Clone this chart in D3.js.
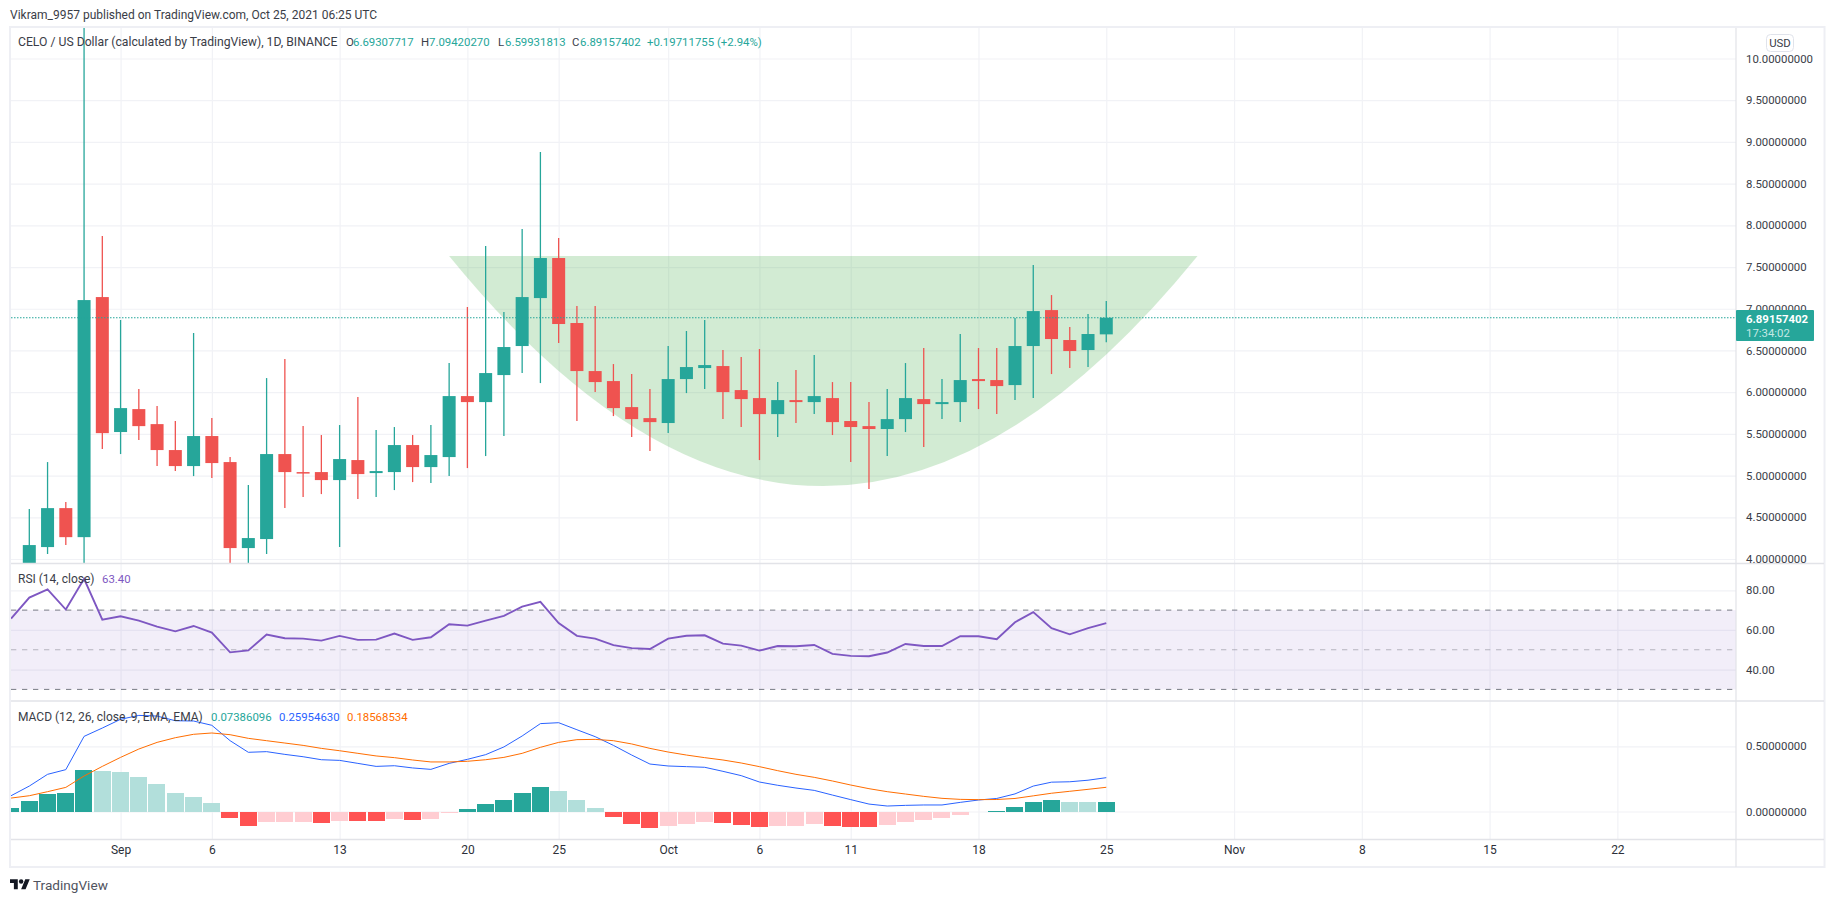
<!DOCTYPE html>
<html>
<head>
<meta charset="utf-8">
<title>CELO / US Dollar</title>
<script src="https://cdn.jsdelivr.net/npm/d3@7"></script>
<style>
  html, body { margin: 0; padding: 0; background: #fff; overflow: hidden; }
  svg { display: block; }
  text { font-family: Roboto, sans-serif; font-size: 11.4px; fill: #3a3d47; }
  .axis path { display: none; }
</style>
</head>
<body>
<svg id="chart" width="1834" height="902"></svg>
<script>
// candles, Aug 27 .. Oct 25
const opens = [3.95,4.143,4.610,4.262,7.140,5.522,5.797,5.617,5.306,5.114,5.474,5.162,4.131,4.239,5.258,5.042,5.042,4.946,5.186,5.030,5.042,5.366,5.102,5.222,5.953,5.881,6.205,6.553,7.128,7.608,6.829,6.253,6.133,5.821,5.689,5.630,6.157,6.289,6.313,6.025,5.929,5.737,5.905,5.881,5.929,5.654,5.593,5.558,5.677,5.917,5.857,5.881,6.157,6.145,6.085,6.553,6.984,6.625,6.505,6.693];
const highs = [4.598,5.162,4.682,10.6,7.872,6.865,6.037,5.833,5.653,6.709,5.690,5.222,4.886,6.169,6.397,5.593,5.486,5.606,5.941,5.546,5.582,5.486,5.606,6.349,7.021,7.752,6.961,7.956,8.879,7.848,7.033,7.033,6.337,6.217,6.037,6.553,6.733,6.865,6.505,6.421,6.517,6.121,6.265,6.445,6.121,6.121,5.881,6.037,6.349,6.529,6.157,6.697,6.529,6.529,6.889,7.524,7.164,6.781,6.937,7.094];
const lows = [3.9,4.059,4.167,3.951,5.318,5.258,5.426,5.114,5.054,4.994,4.970,3.951,3.951,4.059,4.610,4.742,4.778,4.143,4.718,4.742,4.826,4.922,4.910,4.994,5.090,5.234,5.474,6.229,6.109,6.589,5.654,6.001,5.713,5.462,5.294,5.510,5.989,6.037,5.677,5.581,5.186,5.462,5.630,5.737,5.486,5.162,4.838,5.234,5.522,5.342,5.677,5.641,5.797,5.737,5.905,5.929,6.217,6.289,6.301,6.599];
const closes = [4.167,4.610,4.262,7.104,5.509,5.809,5.593,5.306,5.114,5.474,5.150,4.131,4.251,5.258,5.042,5.030,4.946,5.198,5.018,5.054,5.366,5.102,5.246,5.953,5.881,6.229,6.541,7.140,7.608,6.817,6.253,6.121,5.809,5.677,5.641,6.157,6.301,6.325,6.001,5.917,5.737,5.905,5.881,5.953,5.641,5.582,5.558,5.677,5.929,5.857,5.881,6.145,6.133,6.073,6.553,6.972,6.637,6.493,6.697,6.892];

// indicators, Aug 26 .. Oct 25
const rsiValues = [65.7,76.3,80.5,70.3,85.8,65.2,
  66.9,64.7,61.7,59.3,62.0,58.7,48.7,49.7,57.7,55.8,55.6,54.6,57.0,55.0,55.1,58.2,55.0,56.3,62.9,62.2,64.7,67.1,71.8,74.2,63.5,57.0,55.6,52.3,50.8,50.4,
  55.6,57.1,57.3,53.1,52.1,49.6,51.9,51.8,52.4,47.9,46.9,46.7,48.6,52.9,51.9,51.9,56.8,56.8,55.3,63.9,69.0,60.9,57.8,60.9,63.4];
const macdValues = [0.121,0.195,0.285,0.321,0.576,0.640,
  0.707,0.737,0.732,0.696,0.694,0.661,0.543,0.454,0.459,0.438,0.420,0.397,0.392,0.369,0.346,0.351,0.334,0.323,0.369,0.400,0.436,0.495,0.579,0.674,0.681,0.627,0.574,0.507,0.433,0.364,
  0.349,0.344,0.339,0.308,0.275,0.226,0.201,0.180,0.162,0.126,0.091,0.057,0.042,0.047,0.050,0.050,0.070,0.088,0.100,0.135,0.195,0.225,0.228,0.240,0.2595];
const signalValues = [0.103,0.121,0.152,0.185,0.272,0.346,
  0.415,0.479,0.530,0.566,0.592,0.602,0.589,0.561,0.543,0.525,0.507,0.484,0.466,0.446,0.426,0.413,0.395,0.380,0.380,0.385,0.397,0.415,0.446,0.492,0.530,0.551,0.553,0.543,0.518,0.484,
  0.456,0.433,0.413,0.395,0.372,0.344,0.313,0.285,0.262,0.234,0.203,0.175,0.152,0.134,0.116,0.101,0.093,0.091,0.092,0.100,0.120,0.140,0.155,0.170,0.1857];
const histValues = [0.028,0.082,0.135,0.143,0.320,0.312,
  0.304,0.266,0.212,0.143,0.112,0.066,-0.049,-0.110,-0.079,-0.078,-0.077,-0.087,-0.072,-0.073,-0.074,-0.056,-0.064,-0.056,-0.010,0.020,0.059,0.089,0.143,0.189,0.158,0.089,0.028,-0.041,-0.095,-0.125,
  -0.110,-0.095,-0.079,-0.087,-0.102,-0.118,-0.110,-0.109,-0.095,-0.110,-0.118,-0.119,-0.102,-0.079,-0.064,-0.049,-0.026,-0.003,0.006,0.035,0.075,0.085,0.073,0.070,0.0739];

const priceTicks = [10,9.5,9,8.5,8,7.5,7,6.5,6,5.5,5,4.5,4];
const rsiTicks = [80,60,40];
const rsiBands = [70,50,30];
const macdTicks = [0.5,0];
const timeTicks = ['2021-09-01','2021-09-06','2021-09-13','2021-09-20','2021-09-25','2021-10-01','2021-10-06','2021-10-11','2021-10-18','2021-10-25','2021-11-01','2021-11-08','2021-11-15','2021-11-22'];
const timeLabels = ['Sep','6','13','20','25','Oct','6','11','18','25','Nov','8','15','22'];
const lastPrice = 6.89157402;

// the green cup: two rim points and the curve's control point
const cupDates = ['2021-09-19','2021-10-09T12:00','2021-10-30'];
const cupPrices = [7.632,2.116,7.632];

const parseDay = s => new Date(s + (s.length > 10 ? ':00Z' : 'T00:00Z'));
const days = d3.utcDay.range(parseDay('2021-08-26'), parseDay('2021-10-26'));

const left = 11, right = 1736;
const paneTop = 28, priceBottom = 563.5, rsiBottom = 701, macdBottom = 839.5, frameBottom = 867;

const x = d3.scaleUtc().domain([parseDay('2021-08-26'), parseDay('2021-11-28')]).range([11.05, 1726.9]);
const yPrice = d3.scaleLinear().domain([4, 10]).range([559, 58.5]);
const yRsi = d3.scaleLinear().domain([30, 80]).range([689.4, 590.3]);
const yMacd = d3.scaleLinear().domain([0, 0.5]).range([811.5, 746.3]);

const up = '#26a69a', down = '#ef5350';
const gridCol = '#f1f2f6', sepCol = '#e2e3e8', frameCol = '#eeeff4';

const svg = d3.select('#chart');

function clip(id, y0, y1) {
  svg.append('clipPath').attr('id', id).append('rect')
    .attr('x', left).attr('y', y0).attr('width', right - left).attr('height', y1 - y0);
}
clip('clipPrice', paneTop, priceBottom);
clip('clipRsi', priceBottom, rsiBottom);
clip('clipMacd', rsiBottom, macdBottom);

// grid, drawn with axes
const xGrid = d3.axisBottom(x).tickValues(timeTicks.map(parseDay)).tickSize(macdBottom - paneTop).tickFormat('');
svg.append('g').attr('class', 'axis').attr('transform', `translate(0,${paneTop})`).call(xGrid)
  .selectAll('line').attr('stroke', gridCol).attr('stroke-width', 1.2);

function hGrid(scale, ticks) {
  svg.append('g').attr('class', 'axis').attr('transform', `translate(${left},0)`)
    .call(d3.axisRight(scale).tickValues(ticks).tickSize(right - left).tickFormat(''))
    .selectAll('line').attr('stroke', gridCol).attr('stroke-width', 1.2);
}
hGrid(yPrice, priceTicks);
hGrid(yRsi, rsiTicks);
hGrid(yMacd, macdTicks);

// cup
const cup = d3.path();
cup.moveTo(x(parseDay(cupDates[0])), yPrice(cupPrices[0]));
cup.quadraticCurveTo(x(parseDay(cupDates[1])), yPrice(cupPrices[1]), x(parseDay(cupDates[2])), yPrice(cupPrices[2]));
cup.closePath();
svg.append('path').attr('d', cup.toString()).attr('fill', 'rgba(76,175,80,0.25)').attr('clip-path', 'url(#clipPrice)');

// candles
const candleIdx = d3.range(opens.length);
const candleDay = i => days[i + 1];
const candleCol = i => closes[i] >= opens[i] ? up : down;
const candles = svg.append('g').attr('clip-path', 'url(#clipPrice)');
candles.selectAll('line').data(candleIdx).join('line')
  .attr('x1', i => x(candleDay(i))).attr('x2', i => x(candleDay(i)))
  .attr('y1', i => yPrice(highs[i])).attr('y2', i => yPrice(lows[i]))
  .attr('stroke', candleCol).attr('stroke-width', 1.3);
candles.selectAll('rect').data(candleIdx).join('rect')
  .attr('x', i => x(candleDay(i)) - 6.5).attr('width', 13)
  .attr('y', i => yPrice(Math.max(opens[i], closes[i])))
  .attr('height', i => Math.max(1.5, Math.abs(yPrice(opens[i]) - yPrice(closes[i]))))
  .attr('fill', candleCol);

// last price line
svg.append('line').attr('x1', left).attr('x2', right)
  .attr('y1', yPrice(lastPrice)).attr('y2', yPrice(lastPrice))
  .attr('stroke', up).attr('stroke-width', 1.1).attr('stroke-dasharray', '1.5 1.5');

// rsi
svg.append('rect').attr('x', left).attr('width', right - left)
  .attr('y', yRsi(70)).attr('height', yRsi(30) - yRsi(70))
  .attr('fill', 'rgba(126,87,194,0.1)');
svg.selectAll('.band').data(rsiBands).join('line').attr('class', 'band')
  .attr('x1', left).attr('x2', right)
  .attr('y1', d => yRsi(d)).attr('y2', d => yRsi(d))
  .attr('stroke', '#787b86').attr('stroke-opacity', d => d === 50 ? 0.5 : 1)
  .attr('stroke-dasharray', '5.3 5.7');
const line = (yScale) => d3.line().x((d, i) => x(days[i])).y(d => yScale(d));
svg.append('path').datum(rsiValues).attr('d', line(yRsi))
  .attr('fill', 'none').attr('stroke', '#7e57c2').attr('stroke-width', 1.9)
  .attr('clip-path', 'url(#clipRsi)');

// macd histogram
function histCol(d, i) {
  const rising = i === 0 || d >= histValues[i - 1];
  if (d >= 0) return rising ? '#26a69a' : '#b2dfdb';
  return rising ? '#ffcdd2' : '#ff5252';
}
svg.append('g').attr('clip-path', 'url(#clipMacd)').selectAll('rect').data(histValues).join('rect')
  .attr('x', (d, i) => Math.round(x(days[i]) - 8.6))
  .attr('width', 17)
  .attr('y', d => Math.min(yMacd(d), yMacd(0)))
  .attr('height', d => Math.abs(yMacd(d) - yMacd(0)))
  .attr('fill', histCol)
  .attr('shape-rendering', 'crispEdges');
[[macdValues, '#2962ff'], [signalValues, '#ff6d00']].forEach(([vals, col]) => {
  svg.append('path').datum(vals).attr('d', line(yMacd))
    .attr('fill', 'none').attr('stroke', col).attr('stroke-width', 1)
    .attr('clip-path', 'url(#clipMacd)');
});

// frame and pane separators
svg.append('rect').attr('x', 10).attr('y', 27).attr('width', 1814.5).attr('height', frameBottom - 27)
  .attr('fill', 'none').attr('stroke', frameCol).attr('stroke-width', 2);
[priceBottom, rsiBottom, macdBottom].forEach(y => {
  svg.append('line').attr('x1', left).attr('x2', 1824).attr('y1', y).attr('y2', y)
    .attr('stroke', sepCol).attr('stroke-width', 1.3);
});
svg.append('line').attr('x1', right).attr('x2', right).attr('y1', paneTop).attr('y2', frameBottom)
  .attr('stroke', sepCol).attr('stroke-width', 1.2);

// right axes
function yAxis(scale, ticks, fmt) {
  const g = svg.append('g').attr('class', 'axis').attr('transform', `translate(${right},0)`)
    .call(d3.axisRight(scale).tickValues(ticks).tickSize(0).tickPadding(10).tickFormat(fmt));
  g.selectAll('text').style('font-family', 'Roboto, sans-serif').style('font-size', '11.4px').style('fill', '#3a3d47');
}
yAxis(yPrice, priceTicks, d3.format('.8f'));
yAxis(yRsi, rsiTicks, d3.format('.2f'));
yAxis(yMacd, macdTicks, d3.format('.8f'));

// time axis
const xAxis = svg.append('g').attr('class', 'axis').attr('transform', `translate(0,${macdBottom + 3})`)
  .call(d3.axisBottom(x).tickValues(timeTicks.map(parseDay)).tickSize(0).tickPadding(3)
    .tickFormat((d, i) => timeLabels[i]));
xAxis.selectAll('text').style('font-family', 'Roboto, sans-serif').style('font-size', '12px').style('fill', '#2c2f38');

// price tag
svg.append('rect').attr('x', right).attr('y', 310).attr('width', 78).attr('height', 31).attr('rx', 1).attr('fill', up);
function label(tx, ty, str, fill, size, weight) {
  return svg.append('text').attr('x', tx).attr('y', ty).attr('dominant-baseline', 'central')
    .style('fill', fill || '#3a3d47').style('font-size', (size || 11.4) + 'px').style('font-weight', weight || 400).text(str);
}
label(1746, 319, '6.89157402', '#fff', 11.4, 700);
label(1746, 332.5, '17:34:02', '#c4e8e4');

// usd button
svg.append('rect').attr('x', 1766.5).attr('y', 34.5).attr('width', 27).attr('height', 17).attr('rx', 4)
  .attr('fill', '#fff').attr('stroke', '#e0e3eb');
label(1780, 43, 'USD').attr('text-anchor', 'middle');

// headers
label(10, 14.5, 'Vikram_9957 published on TradingView.com, Oct 25, 2021 06:25 UTC', '#3a3d47', 12);
label(18, 42, 'CELO / US Dollar (calculated by TradingView), 1D, BINANCE', '#3a3d47', 12.2);
[[346, 'O', 353, '6.69307717'], [421, 'H', 429, '7.09420270'], [498, 'L', 505, '6.59931813'], [572, 'C', 580, '6.89157402']].forEach(r => {
  label(r[0], 42, r[1]);
  label(r[2], 42, r[3], up);
});
label(647, 42, '+0.19711755 (+2.94%)', up);

label(18, 578.7, 'RSI (14, close)', '#3a3d47', 12);
label(102, 578.7, '63.40', '#7e57c2');
label(18, 716.7, 'MACD (12, 26, close, 9, EMA, EMA)', '#3a3d47', 12);
label(211, 716.7, '0.07386096', up);
label(279, 716.7, '0.25954630', '#2962ff');
label(347, 716.7, '0.18568534', '#ff6d00');

// logo
const logo = svg.append('g').attr('transform', 'translate(10,877) scale(0.556)');
logo.append('path').attr('d', 'M14 22H7V11H0V4h14v18zM28 22h-8l7.5-18h8L28 22z').attr('fill', '#131722');
logo.append('circle').attr('cx', 20).attr('cy', 8).attr('r', 4).attr('fill', '#131722');
label(33, 884.5, 'TradingView', '#50535e', 13.6);
</script>
</body>
</html>
